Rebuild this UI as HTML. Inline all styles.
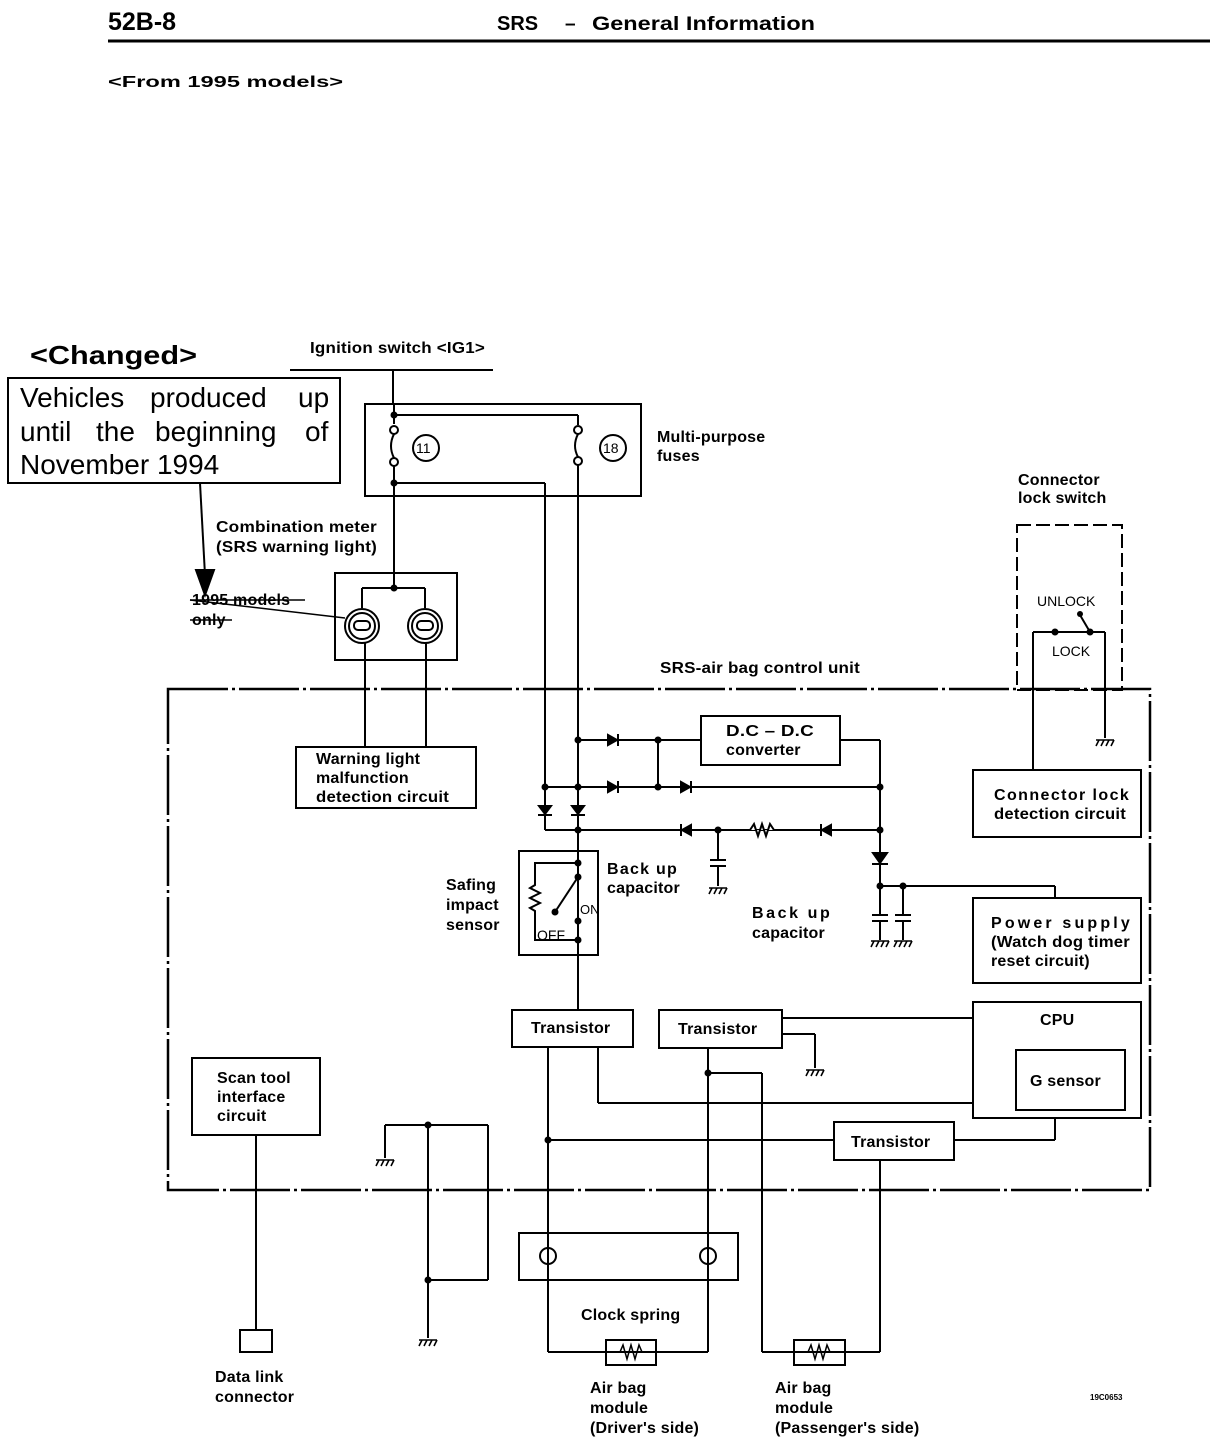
<!DOCTYPE html>
<html><head><meta charset="utf-8"><style>
html,body{margin:0;padding:0;background:#fff;}
svg{display:block;}
text{font-family:"Liberation Sans",sans-serif;fill:#000;}
.t{font-size:16px;font-weight:bold;letter-spacing:0.2px;}
</style></head><body>
<svg width="1216" height="1444" viewBox="0 0 1216 1444" xmlns="http://www.w3.org/2000/svg">
<g stroke="#000" stroke-width="2" fill="none">
<line x1="108" y1="41" x2="1210" y2="41" stroke-width="3"/>
<rect x="8" y="378" width="332" height="105"/>
<line x1="200" y1="483" x2="205" y2="575"/>
<polygon points="196,570 214,570 205,595" fill="#000"/>
<line x1="290" y1="370" x2="493" y2="370"/>
<line x1="393" y1="370" x2="393" y2="404"/>
<rect x="365" y="404" width="276" height="92"/>
<line x1="394" y1="404" x2="394" y2="424"/>
<line x1="394" y1="415" x2="578" y2="415"/>
<line x1="578" y1="415" x2="578" y2="425"/>
<circle cx="394" cy="430" r="4"/><circle cx="394" cy="462" r="4"/>
<path d="M394 434 Q388 446 394 458"/>
<circle cx="578" cy="430" r="4"/><circle cx="578" cy="461" r="4"/>
<path d="M578 434 Q572 446 578 457"/>
<circle cx="426" cy="448" r="13"/><circle cx="613" cy="448" r="13"/>
<line x1="394" y1="466" x2="394" y2="588"/>
<line x1="394" y1="483" x2="545" y2="483"/>
<line x1="545" y1="483" x2="545" y2="805"/>
<line x1="578" y1="465" x2="578" y2="805"/>
<rect x="335" y="573" width="122" height="87"/>
<line x1="362" y1="588" x2="425" y2="588"/>
<line x1="362" y1="588" x2="362" y2="608"/>
<line x1="425" y1="588" x2="425" y2="608"/>
<circle cx="362" cy="626" r="17"/><circle cx="362" cy="626" r="13"/>
<circle cx="425" cy="626" r="17"/><circle cx="425" cy="626" r="13"/>
<rect x="354" y="621" width="16" height="9" rx="4"/>
<rect x="417" y="621" width="16" height="9" rx="4"/>
<line x1="365" y1="643" x2="365" y2="747"/>
<line x1="426" y1="643" x2="426" y2="747"/>
<line x1="190" y1="600" x2="345" y2="618" stroke-width="1.5"/>
<line x1="190" y1="600" x2="305" y2="600" stroke-width="1.5"/>
<line x1="190" y1="620" x2="232" y2="620" stroke-width="1.5"/>
<rect x="296" y="747" width="180" height="61"/>
<rect x="168" y="689" width="982" height="501" stroke-width="2.5" stroke-dasharray="60,4,3,4"/>
<line x1="578" y1="740" x2="701" y2="740"/>
<rect x="701" y="716" width="139" height="49"/>
<line x1="840" y1="740" x2="880" y2="740"/>
<line x1="880" y1="740" x2="880" y2="860"/>
<line x1="545" y1="787" x2="880" y2="787"/>
<line x1="658" y1="740" x2="658" y2="787"/>
<line x1="545" y1="810" x2="545" y2="830"/>
<line x1="545" y1="830" x2="880" y2="830"/>
<line x1="578" y1="805" x2="578" y2="1010"/>
<line x1="718" y1="830" x2="718" y2="860"/>
<line x1="880" y1="865" x2="880" y2="915"/>
<line x1="880" y1="886" x2="1055" y2="886"/>
<line x1="1055" y1="886" x2="1055" y2="898"/>
<line x1="903" y1="886" x2="903" y2="915"/>
<rect x="519" y="851" width="79" height="104"/>
<path d="M578 863 L535 863 L535 885 L530 888 L540 893 L530 898 L540 903 L530 908 L535 911 L535 940 L578 940"/>
<line x1="578" y1="877" x2="555" y2="912"/>
<rect x="1017" y="525" width="105" height="165" stroke-dasharray="14,5"/>
<line x1="1033" y1="632" x2="1105" y2="632"/>
<line x1="1033" y1="632" x2="1033" y2="770"/>
<line x1="1105" y1="632" x2="1105" y2="738"/>
<line x1="1080" y1="615" x2="1090" y2="632"/>
<rect x="973" y="770" width="168" height="67"/>
<rect x="973" y="898" width="168" height="85"/>
<rect x="973" y="1002" width="168" height="116"/>
<rect x="1016" y="1050" width="109" height="60"/>
<rect x="512" y="1010" width="121" height="37"/>
<rect x="659" y="1010" width="123" height="38"/>
<rect x="834" y="1122" width="120" height="38"/>
<line x1="782" y1="1018" x2="973" y2="1018"/>
<line x1="782" y1="1034" x2="815" y2="1034"/>
<line x1="815" y1="1034" x2="815" y2="1068"/>
<line x1="598" y1="1047" x2="598" y2="1103"/>
<line x1="598" y1="1103" x2="973" y2="1103"/>
<line x1="548" y1="1047" x2="548" y2="1352"/>
<line x1="548" y1="1140" x2="834" y2="1140"/>
<line x1="954" y1="1140" x2="1055" y2="1140"/>
<line x1="1055" y1="1140" x2="1055" y2="1118"/>
<line x1="708" y1="1048" x2="708" y2="1352"/>
<line x1="708" y1="1073" x2="762" y2="1073"/>
<line x1="762" y1="1073" x2="762" y2="1352"/>
<line x1="880" y1="1160" x2="880" y2="1352"/>
<rect x="192" y="1058" width="128" height="77"/>
<line x1="256" y1="1135" x2="256" y2="1330"/>
<rect x="240" y="1330" width="32" height="22"/>
<line x1="385" y1="1125" x2="488" y2="1125"/>
<line x1="385" y1="1125" x2="385" y2="1158"/>
<line x1="428" y1="1125" x2="428" y2="1338"/>
<line x1="488" y1="1125" x2="488" y2="1280"/>
<line x1="428" y1="1280" x2="488" y2="1280"/>
<rect x="519" y="1233" width="219" height="47"/>
<circle cx="548" cy="1256" r="8"/><circle cx="708" cy="1256" r="8"/>
<line x1="548" y1="1352" x2="708" y2="1352"/>
<rect x="606" y="1340" width="50" height="25"/>
<line x1="762" y1="1352" x2="880" y2="1352"/>
<rect x="794" y="1340" width="51" height="25"/>
<path d="M615 1352 L620 1352 L623 1345 L627 1359 L631 1345 L635 1359 L639 1345 L642 1352 L648 1352" stroke-width="1.5"/>
<path d="M803 1352 L808 1352 L811 1345 L815 1359 L819 1345 L823 1359 L827 1345 L830 1352 L836 1352" stroke-width="1.5"/>
<path d="M750 830 L754 824 L758 836 L762 824 L766 836 L770 824 L774 830" fill="#fff"/>
</g>
<g fill="#000" stroke="#000" stroke-width="2">
<polygon points="608,735 608,745 617,740"/><line x1="618" y1="734" x2="618" y2="746"/>
<polygon points="608,782 608,792 617,787"/><line x1="618" y1="781" x2="618" y2="793"/>
<polygon points="681,782 681,792 690,787"/><line x1="691" y1="781" x2="691" y2="793"/>
<polygon points="539,806 551,806 545,814"/><line x1="538" y1="815" x2="552" y2="815"/>
<polygon points="572,806 584,806 578,814"/><line x1="571" y1="815" x2="585" y2="815"/>
<polygon points="691,825 691,835 682,830"/><line x1="681" y1="824" x2="681" y2="836"/>
<polygon points="831,825 831,835 822,830"/><line x1="821" y1="824" x2="821" y2="836"/>
<polygon points="873,853 887,853 880,863"/><line x1="872" y1="864" x2="888" y2="864"/>
</g>
<g fill="#000">
<circle cx="394" cy="415" r="3.5"/><circle cx="394" cy="483" r="3.5"/><circle cx="394" cy="588" r="3.5"/>
<circle cx="578" cy="740" r="3.5"/><circle cx="658" cy="740" r="3.5"/><circle cx="545" cy="787" r="3.5"/>
<circle cx="578" cy="787" r="3.5"/><circle cx="658" cy="787" r="3.5"/><circle cx="880" cy="787" r="3.5"/>
<circle cx="578" cy="830" r="3.5"/><circle cx="718" cy="830" r="3.5"/><circle cx="880" cy="830" r="3.5"/>
<circle cx="880" cy="886" r="3.5"/><circle cx="903" cy="886" r="3.5"/>
<circle cx="578" cy="863" r="3.5"/><circle cx="578" cy="877" r="3.5"/><circle cx="555" cy="912" r="3.5"/>
<circle cx="578" cy="921" r="3.5"/><circle cx="578" cy="940" r="3.5"/>
<circle cx="1055" cy="632" r="3.5"/><circle cx="1090" cy="632" r="3.5"/><circle cx="1080" cy="614" r="3"/>
<circle cx="548" cy="1140" r="3.5"/><circle cx="708" cy="1073" r="3.5"/>
<circle cx="428" cy="1125" r="3.5"/><circle cx="428" cy="1280" r="3.5"/>
</g>
<g stroke="#000" stroke-width="2" fill="none">
<line x1="710" y1="860" x2="726" y2="860"/><line x1="710" y1="866" x2="726" y2="866"/>
<line x1="718" y1="866" x2="718" y2="886"/>
<line x1="872" y1="915" x2="888" y2="915"/><line x1="872" y1="921" x2="888" y2="921"/>
<line x1="895" y1="915" x2="911" y2="915"/><line x1="895" y1="921" x2="911" y2="921"/>
<line x1="880" y1="921" x2="880" y2="940"/><line x1="903" y1="921" x2="903" y2="940"/>
</g>
<g stroke="#000" stroke-width="1.6">
<path d="M709 888 h18 M712 888 l-3 6 M717 888 l-3 6 M722 888 l-3 6 M727 888 l-3 6"/>
<path d="M871 941 h18 M874 941 l-3 6 M879 941 l-3 6 M884 941 l-3 6 M889 941 l-3 6"/>
<path d="M894 941 h18 M897 941 l-3 6 M902 941 l-3 6 M907 941 l-3 6 M912 941 l-3 6"/>
<path d="M1096 740 h18 M1099 740 l-3 6 M1104 740 l-3 6 M1109 740 l-3 6 M1114 740 l-3 6"/>
<path d="M806 1070 h18 M809 1070 l-3 6 M814 1070 l-3 6 M819 1070 l-3 6 M824 1070 l-3 6"/>
<path d="M376 1160 h18 M379 1160 l-3 6 M384 1160 l-3 6 M389 1160 l-3 6 M394 1160 l-3 6"/>
<path d="M419 1340 h18 M422 1340 l-3 6 M427 1340 l-3 6 M432 1340 l-3 6 M437 1340 l-3 6"/>
</g>
<text x="108" y="30" font-size="25" font-weight="bold">52B-8</text>
<text x="497" y="30" font-size="20" font-weight="bold">SRS</text>
<text x="565" y="30" font-size="19" font-weight="bold">–</text>
<text x="592" y="30" font-size="19" font-weight="bold" textLength="223" lengthAdjust="spacingAndGlyphs">General Information</text>
<text x="108" y="87" font-size="16" font-weight="bold" textLength="235" lengthAdjust="spacingAndGlyphs">&lt;From 1995 models&gt;</text>
<text x="30" y="364" font-size="26" font-weight="bold" textLength="167" lengthAdjust="spacingAndGlyphs">&lt;Changed&gt;</text>
<g font-size="28">
<text x="20" y="407">Vehicles</text><text x="150" y="407">produced</text><text x="298" y="407">up</text>
<text x="20" y="441">until</text><text x="96" y="441">the</text><text x="155" y="441">beginning</text><text x="305" y="441">of</text>
<text x="20" y="474">November 1994</text>
</g>
<text class="t" x="310" y="353" textLength="175" lengthAdjust="spacingAndGlyphs">Ignition switch &lt;IG1&gt;</text>
<text class="t" x="657" y="442">Multi-purpose</text>
<text class="t" x="657" y="461">fuses</text>
<text class="t" x="216" y="532" textLength="161" lengthAdjust="spacingAndGlyphs">Combination meter</text>
<text class="t" x="216" y="552" textLength="161" lengthAdjust="spacingAndGlyphs">(SRS warning light)</text>
<text class="t" x="192" y="605">1995 models</text>
<text class="t" x="192" y="625">only</text>
<text class="t" x="660" y="673" textLength="200" lengthAdjust="spacingAndGlyphs">SRS-air bag control unit</text>
<text class="t" x="316" y="764">Warning light</text>
<text class="t" x="316" y="783">malfunction</text>
<text class="t" x="316" y="802" textLength="133" lengthAdjust="spacingAndGlyphs">detection circuit</text>
<text class="t" x="1018" y="485">Connector</text>
<text class="t" x="1018" y="503">lock switch</text>
<text x="1037" y="606" font-size="14" font-family="Liberation Mono">UNLOCK</text>
<text x="1052" y="656" font-size="14" font-family="Liberation Mono">LOCK</text>
<text class="t" x="726" y="736" textLength="88" lengthAdjust="spacingAndGlyphs">D.C – D.C</text>
<text class="t" x="726" y="755">converter</text>
<text class="t" x="607" y="874" textLength="70">Back up</text>
<text class="t" x="607" y="893">capacitor</text>
<text class="t" x="446" y="890">Safing</text>
<text class="t" x="446" y="910">impact</text>
<text class="t" x="446" y="930">sensor</text>
<text x="580" y="914" font-size="13" font-family="Liberation Mono">ON</text>
<text x="537" y="940" font-size="14" font-family="Liberation Mono">OFF</text>
<text class="t" x="752" y="918" textLength="78">Back up</text>
<text class="t" x="752" y="938">capacitor</text>
<text class="t" x="994" y="800" textLength="135">Connector lock</text>
<text class="t" x="994" y="819" textLength="132" lengthAdjust="spacingAndGlyphs">detection circuit</text>
<text class="t" x="991" y="928" textLength="139">Power supply</text>
<text class="t" x="991" y="947" textLength="139" lengthAdjust="spacingAndGlyphs">(Watch dog timer</text>
<text class="t" x="991" y="966">reset circuit)</text>
<text class="t" x="1040" y="1025">CPU</text>
<text class="t" x="1030" y="1086">G sensor</text>
<text class="t" x="531" y="1033">Transistor</text>
<text class="t" x="678" y="1034">Transistor</text>
<text class="t" x="851" y="1147">Transistor</text>
<text class="t" x="217" y="1083">Scan tool</text>
<text class="t" x="217" y="1102">interface</text>
<text class="t" x="217" y="1121">circuit</text>
<text class="t" x="581" y="1320">Clock spring</text>
<text class="t" x="215" y="1382">Data link</text>
<text class="t" x="215" y="1402">connector</text>
<text class="t" x="590" y="1393">Air bag</text>
<text class="t" x="590" y="1413">module</text>
<text class="t" x="590" y="1433">(Driver's side)</text>
<text class="t" x="775" y="1393">Air bag</text>
<text class="t" x="775" y="1413">module</text>
<text class="t" x="775" y="1433">(Passenger's side)</text>
<text x="1090" y="1400" font-size="8" font-weight="bold">19C0653</text>
<text x="416" y="453" font-size="14" font-family="Liberation Serif">11</text>
<text x="603" y="453" font-size="14" font-family="Liberation Serif">18</text>
</svg>
</body></html>
